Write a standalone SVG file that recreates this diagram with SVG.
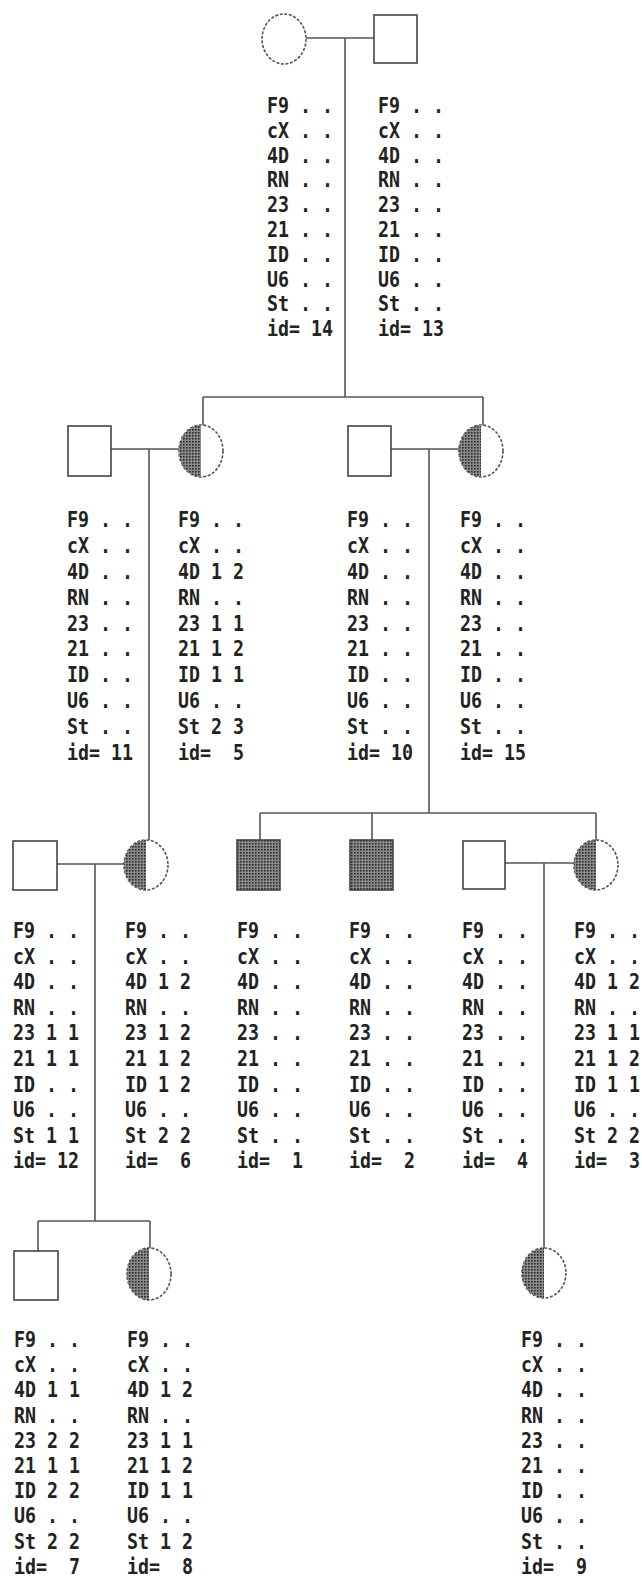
<svg xmlns="http://www.w3.org/2000/svg" width="642" height="1580" viewBox="0 0 642 1580">
<defs>
<pattern id="hatch" width="3" height="3" patternUnits="userSpaceOnUse">
<rect width="3" height="3" fill="#8a8a8a"/>
<rect width="1.6" height="1.6" fill="#2a2a2a"/>
</pattern>
<style>
rect.sq{fill:#fff;stroke:#444;stroke-width:1.6}
rect.aff{fill:url(#hatch);stroke:#444;stroke-width:1.6}
ellipse.ci{fill:#fff;stroke:#555;stroke-width:1.6;stroke-dasharray:3 1.6}
path.half{fill:url(#hatch);stroke:none}
.con line{stroke:#555;stroke-width:1.6}
text.g{font-family:"DejaVu Sans Mono","Liberation Mono",monospace;font-weight:bold;font-size:21px;fill:#222}
</style>
</defs>
<rect width="642" height="1580" fill="#fff"/>

<g id="connectors" class="con">
<line x1="306" y1="38" x2="374" y2="38"/>
<line x1="345" y1="38" x2="345" y2="397"/>
<line x1="203" y1="397" x2="483" y2="397"/>
<line x1="203" y1="397" x2="203" y2="426"/>
<line x1="483" y1="397" x2="483" y2="426"/>
<line x1="111" y1="449" x2="179" y2="449"/>
<line x1="149" y1="449" x2="149" y2="840"/>
<line x1="391" y1="449" x2="459" y2="449"/>
<line x1="429" y1="449" x2="429" y2="813"/>
<line x1="260" y1="813" x2="596" y2="813"/>
<line x1="260" y1="813" x2="260" y2="840"/>
<line x1="372" y1="813" x2="372" y2="840"/>
<line x1="596" y1="813" x2="596" y2="840"/>
<line x1="57" y1="864" x2="124" y2="864"/>
<line x1="95" y1="864" x2="95" y2="1221"/>
<line x1="38" y1="1221" x2="150" y2="1221"/>
<line x1="38" y1="1221" x2="38" y2="1251"/>
<line x1="150" y1="1221" x2="150" y2="1249"/>
<line x1="505" y1="863" x2="574" y2="863"/>
<line x1="544" y1="863" x2="544" y2="1248"/>
</g>

<g id="node14">
<ellipse class="ci" cx="284" cy="39" rx="22" ry="25"/>
<text class="g" xml:space="preserve" transform="translate(267,113) scale(0.87,1)"><tspan x="0" y="0">F9 . .</tspan><tspan x="0" y="24.8">cX . .</tspan><tspan x="0" y="49.6">4D . .</tspan><tspan x="0" y="74.4">RN . .</tspan><tspan x="0" y="99.2">23 . .</tspan><tspan x="0" y="124">21 . .</tspan><tspan x="0" y="148.8">ID . .</tspan><tspan x="0" y="173.6">U6 . .</tspan><tspan x="0" y="198.4">St . .</tspan><tspan x="0" y="223.2">id= 14</tspan></text>
</g>

<g id="node13">
<rect class="sq" x="374" y="15" width="43" height="48"/>
<text class="g" xml:space="preserve" transform="translate(378,113) scale(0.87,1)"><tspan x="0" y="0">F9 . .</tspan><tspan x="0" y="24.8">cX . .</tspan><tspan x="0" y="49.6">4D . .</tspan><tspan x="0" y="74.4">RN . .</tspan><tspan x="0" y="99.2">23 . .</tspan><tspan x="0" y="124">21 . .</tspan><tspan x="0" y="148.8">ID . .</tspan><tspan x="0" y="173.6">U6 . .</tspan><tspan x="0" y="198.4">St . .</tspan><tspan x="0" y="223.2">id= 13</tspan></text>
</g>

<g id="node11">
<rect class="sq" x="68" y="426" width="43" height="50"/>
<text class="g" xml:space="preserve" transform="translate(67,527) scale(0.87,1)"><tspan x="0" y="0">F9 . .</tspan><tspan x="0" y="25.9">cX . .</tspan><tspan x="0" y="51.8">4D . .</tspan><tspan x="0" y="77.7">RN . .</tspan><tspan x="0" y="103.6">23 . .</tspan><tspan x="0" y="129.5">21 . .</tspan><tspan x="0" y="155.4">ID . .</tspan><tspan x="0" y="181.3">U6 . .</tspan><tspan x="0" y="207.2">St . .</tspan><tspan x="0" y="233.1">id= 11</tspan></text>
</g>

<g id="node5">
<ellipse class="ci" cx="201" cy="451" rx="22" ry="26"/>
<path class="half" d="M201,425 A22,26 0 0 0 201,477 Z"/>
<text class="g" xml:space="preserve" transform="translate(178,527) scale(0.87,1)"><tspan x="0" y="0">F9 . .</tspan><tspan x="0" y="25.9">cX . .</tspan><tspan x="0" y="51.8">4D 1 2</tspan><tspan x="0" y="77.7">RN . .</tspan><tspan x="0" y="103.6">23 1 1</tspan><tspan x="0" y="129.5">21 1 2</tspan><tspan x="0" y="155.4">ID 1 1</tspan><tspan x="0" y="181.3">U6 . .</tspan><tspan x="0" y="207.2">St 2 3</tspan><tspan x="0" y="233.1">id=  5</tspan></text>
</g>

<g id="node10">
<rect class="sq" x="348" y="426" width="43" height="50"/>
<text class="g" xml:space="preserve" transform="translate(347,527) scale(0.87,1)"><tspan x="0" y="0">F9 . .</tspan><tspan x="0" y="25.9">cX . .</tspan><tspan x="0" y="51.8">4D . .</tspan><tspan x="0" y="77.7">RN . .</tspan><tspan x="0" y="103.6">23 . .</tspan><tspan x="0" y="129.5">21 . .</tspan><tspan x="0" y="155.4">ID . .</tspan><tspan x="0" y="181.3">U6 . .</tspan><tspan x="0" y="207.2">St . .</tspan><tspan x="0" y="233.1">id= 10</tspan></text>
</g>

<g id="node15">
<ellipse class="ci" cx="481" cy="451" rx="22" ry="26"/>
<path class="half" d="M481,425 A22,26 0 0 0 481,477 Z"/>
<text class="g" xml:space="preserve" transform="translate(460,527) scale(0.87,1)"><tspan x="0" y="0">F9 . .</tspan><tspan x="0" y="25.9">cX . .</tspan><tspan x="0" y="51.8">4D . .</tspan><tspan x="0" y="77.7">RN . .</tspan><tspan x="0" y="103.6">23 . .</tspan><tspan x="0" y="129.5">21 . .</tspan><tspan x="0" y="155.4">ID . .</tspan><tspan x="0" y="181.3">U6 . .</tspan><tspan x="0" y="207.2">St . .</tspan><tspan x="0" y="233.1">id= 15</tspan></text>
</g>

<g id="node12">
<rect class="sq" x="13" y="841" width="44" height="49"/>
<text class="g" xml:space="preserve" transform="translate(13,938) scale(0.87,1)"><tspan x="0" y="0">F9 . .</tspan><tspan x="0" y="25.6">cX . .</tspan><tspan x="0" y="51.2">4D . .</tspan><tspan x="0" y="76.8">RN . .</tspan><tspan x="0" y="102.4">23 1 1</tspan><tspan x="0" y="128">21 1 1</tspan><tspan x="0" y="153.6">ID . .</tspan><tspan x="0" y="179.2">U6 . .</tspan><tspan x="0" y="204.8">St 1 1</tspan><tspan x="0" y="230.4">id= 12</tspan></text>
</g>

<g id="node6">
<ellipse class="ci" cx="146" cy="865" rx="22" ry="25"/>
<path class="half" d="M146,840 A22,25 0 0 0 146,890 Z"/>
<text class="g" xml:space="preserve" transform="translate(125,938) scale(0.87,1)"><tspan x="0" y="0">F9 . .</tspan><tspan x="0" y="25.6">cX . .</tspan><tspan x="0" y="51.2">4D 1 2</tspan><tspan x="0" y="76.8">RN . .</tspan><tspan x="0" y="102.4">23 1 2</tspan><tspan x="0" y="128">21 1 2</tspan><tspan x="0" y="153.6">ID 1 2</tspan><tspan x="0" y="179.2">U6 . .</tspan><tspan x="0" y="204.8">St 2 2</tspan><tspan x="0" y="230.4">id=  6</tspan></text>
</g>

<g id="node1">
<rect class="aff" x="237" y="840" width="43" height="50"/>
<text class="g" xml:space="preserve" transform="translate(237,938) scale(0.87,1)"><tspan x="0" y="0">F9 . .</tspan><tspan x="0" y="25.6">cX . .</tspan><tspan x="0" y="51.2">4D . .</tspan><tspan x="0" y="76.8">RN . .</tspan><tspan x="0" y="102.4">23 . .</tspan><tspan x="0" y="128">21 . .</tspan><tspan x="0" y="153.6">ID . .</tspan><tspan x="0" y="179.2">U6 . .</tspan><tspan x="0" y="204.8">St . .</tspan><tspan x="0" y="230.4">id=  1</tspan></text>
</g>

<g id="node2">
<rect class="aff" x="350" y="840" width="43" height="50"/>
<text class="g" xml:space="preserve" transform="translate(349,938) scale(0.87,1)"><tspan x="0" y="0">F9 . .</tspan><tspan x="0" y="25.6">cX . .</tspan><tspan x="0" y="51.2">4D . .</tspan><tspan x="0" y="76.8">RN . .</tspan><tspan x="0" y="102.4">23 . .</tspan><tspan x="0" y="128">21 . .</tspan><tspan x="0" y="153.6">ID . .</tspan><tspan x="0" y="179.2">U6 . .</tspan><tspan x="0" y="204.8">St . .</tspan><tspan x="0" y="230.4">id=  2</tspan></text>
</g>

<g id="node4">
<rect class="sq" x="463" y="841" width="42" height="48"/>
<text class="g" xml:space="preserve" transform="translate(462,938) scale(0.87,1)"><tspan x="0" y="0">F9 . .</tspan><tspan x="0" y="25.6">cX . .</tspan><tspan x="0" y="51.2">4D . .</tspan><tspan x="0" y="76.8">RN . .</tspan><tspan x="0" y="102.4">23 . .</tspan><tspan x="0" y="128">21 . .</tspan><tspan x="0" y="153.6">ID . .</tspan><tspan x="0" y="179.2">U6 . .</tspan><tspan x="0" y="204.8">St . .</tspan><tspan x="0" y="230.4">id=  4</tspan></text>
</g>

<g id="node3">
<ellipse class="ci" cx="596" cy="865" rx="22" ry="25"/>
<path class="half" d="M596,840 A22,25 0 0 0 596,890 Z"/>
<text class="g" xml:space="preserve" transform="translate(574,938) scale(0.87,1)"><tspan x="0" y="0">F9 . .</tspan><tspan x="0" y="25.6">cX . .</tspan><tspan x="0" y="51.2">4D 1 2</tspan><tspan x="0" y="76.8">RN . .</tspan><tspan x="0" y="102.4">23 1 1</tspan><tspan x="0" y="128">21 1 2</tspan><tspan x="0" y="153.6">ID 1 1</tspan><tspan x="0" y="179.2">U6 . .</tspan><tspan x="0" y="204.8">St 2 2</tspan><tspan x="0" y="230.4">id=  3</tspan></text>
</g>

<g id="node7">
<rect class="sq" x="14" y="1251" width="44" height="49"/>
<text class="g" xml:space="preserve" transform="translate(14,1347) scale(0.87,1)"><tspan x="0" y="0">F9 . .</tspan><tspan x="0" y="25.2">cX . .</tspan><tspan x="0" y="50.4">4D 1 1</tspan><tspan x="0" y="75.6">RN . .</tspan><tspan x="0" y="100.8">23 2 2</tspan><tspan x="0" y="126">21 1 1</tspan><tspan x="0" y="151.2">ID 2 2</tspan><tspan x="0" y="176.4">U6 . .</tspan><tspan x="0" y="201.6">St 2 2</tspan><tspan x="0" y="226.8">id=  7</tspan></text>
</g>

<g id="node8">
<ellipse class="ci" cx="149" cy="1274" rx="22" ry="26"/>
<path class="half" d="M149,1248 A22,26 0 0 0 149,1300 Z"/>
<text class="g" xml:space="preserve" transform="translate(127,1347) scale(0.87,1)"><tspan x="0" y="0">F9 . .</tspan><tspan x="0" y="25.2">cX . .</tspan><tspan x="0" y="50.4">4D 1 2</tspan><tspan x="0" y="75.6">RN . .</tspan><tspan x="0" y="100.8">23 1 1</tspan><tspan x="0" y="126">21 1 2</tspan><tspan x="0" y="151.2">ID 1 1</tspan><tspan x="0" y="176.4">U6 . .</tspan><tspan x="0" y="201.6">St 1 2</tspan><tspan x="0" y="226.8">id=  8</tspan></text>
</g>

<g id="node9">
<ellipse class="ci" cx="544" cy="1273" rx="22" ry="25"/>
<path class="half" d="M544,1248 A22,25 0 0 0 544,1298 Z"/>
<text class="g" xml:space="preserve" transform="translate(521,1347) scale(0.87,1)"><tspan x="0" y="0">F9 . .</tspan><tspan x="0" y="25.2">cX . .</tspan><tspan x="0" y="50.4">4D . .</tspan><tspan x="0" y="75.6">RN . .</tspan><tspan x="0" y="100.8">23 . .</tspan><tspan x="0" y="126">21 . .</tspan><tspan x="0" y="151.2">ID . .</tspan><tspan x="0" y="176.4">U6 . .</tspan><tspan x="0" y="201.6">St . .</tspan><tspan x="0" y="226.8">id=  9</tspan></text>
</g>
</svg>
